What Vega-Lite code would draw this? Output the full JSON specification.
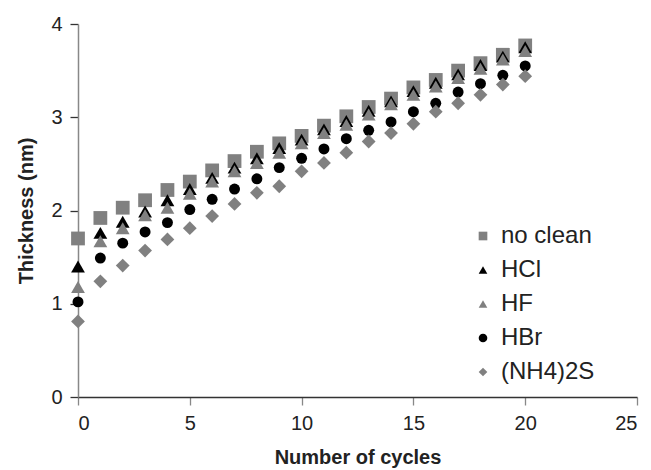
{
  "$schema": "https://vega.github.io/schema/vega-lite/v6.json",
  "width": 559,
  "height": 373,
  "autosize": "none",
  "padding": {"left": 78, "top": 24, "right": 14, "bottom": 73},
  "background": "white",
  "config": {
    "font": "Liberation Sans",
    "view": {"stroke": null},
    "axis": {"grid": false, "labelFont": "Liberation Sans", "titleFont": "Liberation Sans"}
  },
  "datasets": {
    "d": [
      {"c":0,"t":1.70,"s":"no clean"},{"c":1,"t":1.92,"s":"no clean"},{"c":2,"t":2.03,"s":"no clean"},{"c":3,"t":2.11,"s":"no clean"},{"c":4,"t":2.22,"s":"no clean"},{"c":5,"t":2.31,"s":"no clean"},{"c":6,"t":2.43,"s":"no clean"},{"c":7,"t":2.53,"s":"no clean"},{"c":8,"t":2.63,"s":"no clean"},{"c":9,"t":2.72,"s":"no clean"},{"c":10,"t":2.80,"s":"no clean"},{"c":11,"t":2.91,"s":"no clean"},{"c":12,"t":3.01,"s":"no clean"},{"c":13,"t":3.11,"s":"no clean"},{"c":14,"t":3.20,"s":"no clean"},{"c":15,"t":3.32,"s":"no clean"},{"c":16,"t":3.40,"s":"no clean"},{"c":17,"t":3.50,"s":"no clean"},{"c":18,"t":3.58,"s":"no clean"},{"c":19,"t":3.67,"s":"no clean"},{"c":20,"t":3.77,"s":"no clean"},
      {"c":0,"t":1.40,"s":"HCl"},{"c":1,"t":1.76,"s":"HCl"},{"c":2,"t":1.88,"s":"HCl"},{"c":3,"t":1.99,"s":"HCl"},{"c":4,"t":2.11,"s":"HCl"},{"c":5,"t":2.23,"s":"HCl"},{"c":6,"t":2.35,"s":"HCl"},{"c":7,"t":2.46,"s":"HCl"},{"c":8,"t":2.56,"s":"HCl"},{"c":9,"t":2.67,"s":"HCl"},{"c":10,"t":2.76,"s":"HCl"},{"c":11,"t":2.87,"s":"HCl"},{"c":12,"t":2.96,"s":"HCl"},{"c":13,"t":3.07,"s":"HCl"},{"c":14,"t":3.17,"s":"HCl"},{"c":15,"t":3.28,"s":"HCl"},{"c":16,"t":3.37,"s":"HCl"},{"c":17,"t":3.46,"s":"HCl"},{"c":18,"t":3.56,"s":"HCl"},{"c":19,"t":3.65,"s":"HCl"},{"c":20,"t":3.75,"s":"HCl"},
      {"c":0,"t":1.18,"s":"HF"},{"c":1,"t":1.67,"s":"HF"},{"c":2,"t":1.81,"s":"HF"},{"c":3,"t":1.95,"s":"HF"},{"c":4,"t":2.03,"s":"HF"},{"c":5,"t":2.18,"s":"HF"},{"c":6,"t":2.31,"s":"HF"},{"c":7,"t":2.42,"s":"HF"},{"c":8,"t":2.51,"s":"HF"},{"c":9,"t":2.62,"s":"HF"},{"c":10,"t":2.72,"s":"HF"},{"c":11,"t":2.83,"s":"HF"},{"c":12,"t":2.92,"s":"HF"},{"c":13,"t":3.03,"s":"HF"},{"c":14,"t":3.14,"s":"HF"},{"c":15,"t":3.24,"s":"HF"},{"c":16,"t":3.33,"s":"HF"},{"c":17,"t":3.42,"s":"HF"},{"c":18,"t":3.52,"s":"HF"},{"c":19,"t":3.62,"s":"HF"},{"c":20,"t":3.71,"s":"HF"},
      {"c":0,"t":1.02,"s":"HBr"},{"c":1,"t":1.49,"s":"HBr"},{"c":2,"t":1.65,"s":"HBr"},{"c":3,"t":1.77,"s":"HBr"},{"c":4,"t":1.87,"s":"HBr"},{"c":5,"t":2.01,"s":"HBr"},{"c":6,"t":2.12,"s":"HBr"},{"c":7,"t":2.23,"s":"HBr"},{"c":8,"t":2.34,"s":"HBr"},{"c":9,"t":2.46,"s":"HBr"},{"c":10,"t":2.56,"s":"HBr"},{"c":11,"t":2.66,"s":"HBr"},{"c":12,"t":2.77,"s":"HBr"},{"c":13,"t":2.86,"s":"HBr"},{"c":14,"t":2.95,"s":"HBr"},{"c":15,"t":3.06,"s":"HBr"},{"c":16,"t":3.15,"s":"HBr"},{"c":17,"t":3.27,"s":"HBr"},{"c":18,"t":3.36,"s":"HBr"},{"c":19,"t":3.45,"s":"HBr"},{"c":20,"t":3.55,"s":"HBr"},
      {"c":0,"t":0.81,"s":"(NH4)2S"},{"c":1,"t":1.24,"s":"(NH4)2S"},{"c":2,"t":1.41,"s":"(NH4)2S"},{"c":3,"t":1.57,"s":"(NH4)2S"},{"c":4,"t":1.69,"s":"(NH4)2S"},{"c":5,"t":1.81,"s":"(NH4)2S"},{"c":6,"t":1.94,"s":"(NH4)2S"},{"c":7,"t":2.07,"s":"(NH4)2S"},{"c":8,"t":2.19,"s":"(NH4)2S"},{"c":9,"t":2.26,"s":"(NH4)2S"},{"c":10,"t":2.42,"s":"(NH4)2S"},{"c":11,"t":2.51,"s":"(NH4)2S"},{"c":12,"t":2.62,"s":"(NH4)2S"},{"c":13,"t":2.74,"s":"(NH4)2S"},{"c":14,"t":2.83,"s":"(NH4)2S"},{"c":15,"t":2.93,"s":"(NH4)2S"},{"c":16,"t":3.06,"s":"(NH4)2S"},{"c":17,"t":3.15,"s":"(NH4)2S"},{"c":18,"t":3.24,"s":"(NH4)2S"},{"c":19,"t":3.35,"s":"(NH4)2S"},{"c":20,"t":3.44,"s":"(NH4)2S"}
    ]
  },
  "data": {"name": "d"},
  "mark": {"type": "point", "filled": true, "opacity": 1},
  "encoding": {
    "x": {
      "field": "c", "type": "quantitative",
      "scale": {"domain": [0, 25], "nice": false, "zero": true},
      "axis": {
        "values": [0, 5, 10, 15, 20, 25],
        "title": "Number of cycles",
        "titleFontSize": 20, "titleFontWeight": "bold", "titleColor": "#222222",
        "titlePadding": 14,
        "labelFontSize": 20, "labelColor": "#222222", "labelPadding": 8,
        "domainColor": "#333333", "domainWidth": 1.3,
        "tickColor": "#888888", "tickSize": 8, "tickWidth": 1.3
      }
    },
    "y": {
      "field": "t", "type": "quantitative",
      "scale": {"domain": [0, 4], "nice": false},
      "axis": {
        "values": [0, 1, 2, 3, 4],
        "title": "Thickness (nm)",
        "titleFontSize": 20, "titleFontWeight": "bold", "titleColor": "#222222",
        "titlePadding": 14,
        "labelFontSize": 20, "labelColor": "#222222", "labelPadding": 8,
        "domainColor": "#888888", "domainWidth": 1.5,
        "tickColor": "#333333", "tickSize": 8, "tickWidth": 1.3
      }
    },
    "shape": {
      "field": "s", "type": "nominal",
      "scale": {
        "domain": ["no clean", "HCl", "HF", "HBr", "(NH4)2S"],
        "range": ["square", "triangle-up", "triangle-up", "circle", "diamond"]
      },
      "legend": {
        "title": null, "orient": "none", "legendX": 393, "legendY": 200,
        "labelFontSize": 24, "labelColor": "#222222", "labelOffset": 6, "labelFont": "Liberation Sans",
        "symbolSize": 75, "rowPadding": 10, "padding": 0
      }
    },
    "color": {
      "field": "s", "type": "nominal",
      "scale": {
        "domain": ["no clean", "HCl", "HF", "HBr", "(NH4)2S"],
        "range": ["#808080", "#000000", "#808080", "#000000", "#808080"]
      }
    },
    "size": {
      "condition": {"test": "datum.s === 'HBr'", "value": 120},
      "value": 190
    }
  }
}
